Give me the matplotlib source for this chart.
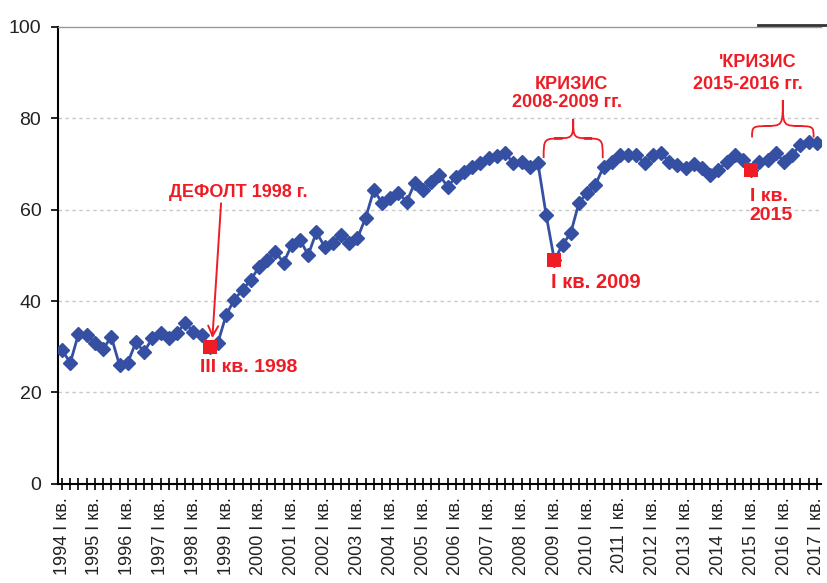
import matplotlib
matplotlib.use("Agg")
import matplotlib.pyplot as plt
from matplotlib.path import Path
from matplotlib.patches import PathPatch
from matplotlib.lines import Line2D
import numpy as np

plt.rcParams['font.family'] = ['Liberation Sans', 'DejaVu Sans']

years = list(range(1994, 2018))
tick_labels = [f"{y} I кв." for y in years]

values = [29.3, 26.5, 32.8, 32.6,
          30.9, 29.5, 32.2, 26.0,
          26.5, 31.0, 28.9, 31.9,
          33.0, 32.0, 33.0, 35.2,
          33.3, 32.6, 30.0, 30.9,
          37.0, 40.3, 42.5, 44.6,
          47.5, 49.0, 50.8, 48.4,
          52.3, 53.4, 50.1, 55.1,
          51.9, 52.7, 54.5, 52.7,
          53.8, 58.2, 64.3, 61.5,
          62.6, 63.7, 61.7, 65.9,
          64.3, 66.0, 67.6, 65.0,
          67.2, 68.3, 69.4, 70.2,
          71.3, 71.8, 72.4, 70.2,
          70.5, 69.4, 70.2, 58.9,
          49.0, 52.3, 54.9, 61.5,
          63.7, 65.4, 69.4, 70.5,
          72.0, 72.0, 72.0, 70.2,
          72.0, 72.4, 70.5, 69.8,
          69.1, 70.0, 69.1, 67.6,
          68.7, 70.5, 72.0, 70.9,
          68.7, 70.5, 70.9, 72.4,
          70.5, 72.0, 74.2, 74.8,
          74.6]

highlight_idx = [18, 60, 84]

BLUE = '#3550A3'
RED = '#EE1C25'

fig = plt.figure(figsize=(8.27, 5.83), dpi=100)
ax = fig.add_axes([0.0701, 0.170, 0.9226, 0.7839])

x = np.arange(len(values))
ax.plot(x, values, color=BLUE, lw=2.0, marker='D', ms=7.5, mfc=BLUE, mec=BLUE, zorder=3)
ax.plot(x[highlight_idx], np.array(values)[highlight_idx], ls='none', marker='s', ms=9.5,
        mfc=RED, mec=RED, mew=0, zorder=4)

ax.set_xlim(-0.5, 92.5)
ax.set_ylim(0, 100)

ax.set_yticks([0, 20, 40, 60, 80, 100])
ax.set_yticklabels(['0', '20', '40', '60', '80', '100'], fontsize=14, color='#222222')
for yv in [20, 40, 60, 80]:
    ax.axhline(yv, color='#c8c8c8', lw=1.0, ls=(0, (2.5, 2.5)), zorder=1)

ax.set_xticks(np.arange(0, 93, 4))
ax.set_xticklabels(tick_labels, rotation=90, fontsize=13, color='#222222')
ax.set_xticks(np.arange(0, 93, 1), minor=True)
ax.tick_params(axis='x', which='both', direction='inout', length=9, width=1.2, color='black', pad=5)
ax.tick_params(axis='y', which='both', direction='out', length=5, width=1.2, color='black', pad=7)

for s in ['left', 'bottom']:
    ax.spines[s].set_linewidth(1.5)
    ax.spines[s].set_color('black')
ax.spines['right'].set_visible(False)
ax.spines['top'].set_color('#999999')
ax.spines['top'].set_linewidth(1.0)

# decorative line top right
fig.add_artist(Line2D([758/827, 1.0], [1-25/583, 1-25/583], color='#333333', lw=2.0))


def brace(x0, x1, yb, ym, yt, r):
    xc = (x0 + x1) / 2
    verts = [(x0, yb), (x0, ym), (x0, ym), (x0 + r, ym),
             (xc - r, ym),
             (xc, ym), (xc, ym), (xc, yt),
             (xc, ym), (xc, ym), (xc + r, ym),
             (x1 - r, ym),
             (x1, ym), (x1, ym), (x1, yb)]
    codes = [Path.MOVETO, Path.CURVE4, Path.CURVE4, Path.CURVE4,
             Path.LINETO,
             Path.CURVE4, Path.CURVE4, Path.CURVE4,
             Path.CURVE4, Path.CURVE4, Path.CURVE4,
             Path.LINETO,
             Path.CURVE4, Path.CURVE4, Path.CURVE4]
    ax.add_patch(PathPatch(Path(verts, codes), fill=False, ec=RED, lw=1.3, zorder=5))


brace(58.7, 65.9, 71.3, 75.6, 79.8, 2.3)
brace(84.1, 91.6, 75.8, 78.3, 84.0, 2.3)

tkw = dict(color=RED, fontweight='bold', zorder=6)
ax.text(21.5, 63.7, 'ДЕФОЛТ 1998 г.', ha='center', va='center', fontsize=13, **tkw)
ax.annotate('', xy=(18.3, 31.3), xytext=(19.4, 62.0),
            arrowprops=dict(arrowstyle='->', color=RED, lw=1.4, mutation_scale=18), zorder=6)
ax.text(22.7, 25.4, 'III кв. 1998', ha='center', va='center', fontsize=14, **tkw)
ax.text(62.1, 87.3, 'КРИЗИС', ha='center', va='center', fontsize=13, **tkw)
ax.text(61.5, 83.4, '2008-2009 гг.', ha='center', va='center', fontsize=13, **tkw)
ax.text(65.1, 44.0, 'I кв. 2009', ha='center', va='center', fontsize=14.5, **tkw)
ax.text(84.8, 92.1, "'КРИЗИС", ha='center', va='center', fontsize=13, **tkw)
ax.text(83.6, 87.5, '2015-2016 гг.', ha='center', va='center', fontsize=13, **tkw)
ax.text(83.8, 60.8, 'I кв.\n2015', ha='left', va='center', fontsize=14, linespacing=1.1, **tkw)

fig.savefig('out.png', dpi=100)
